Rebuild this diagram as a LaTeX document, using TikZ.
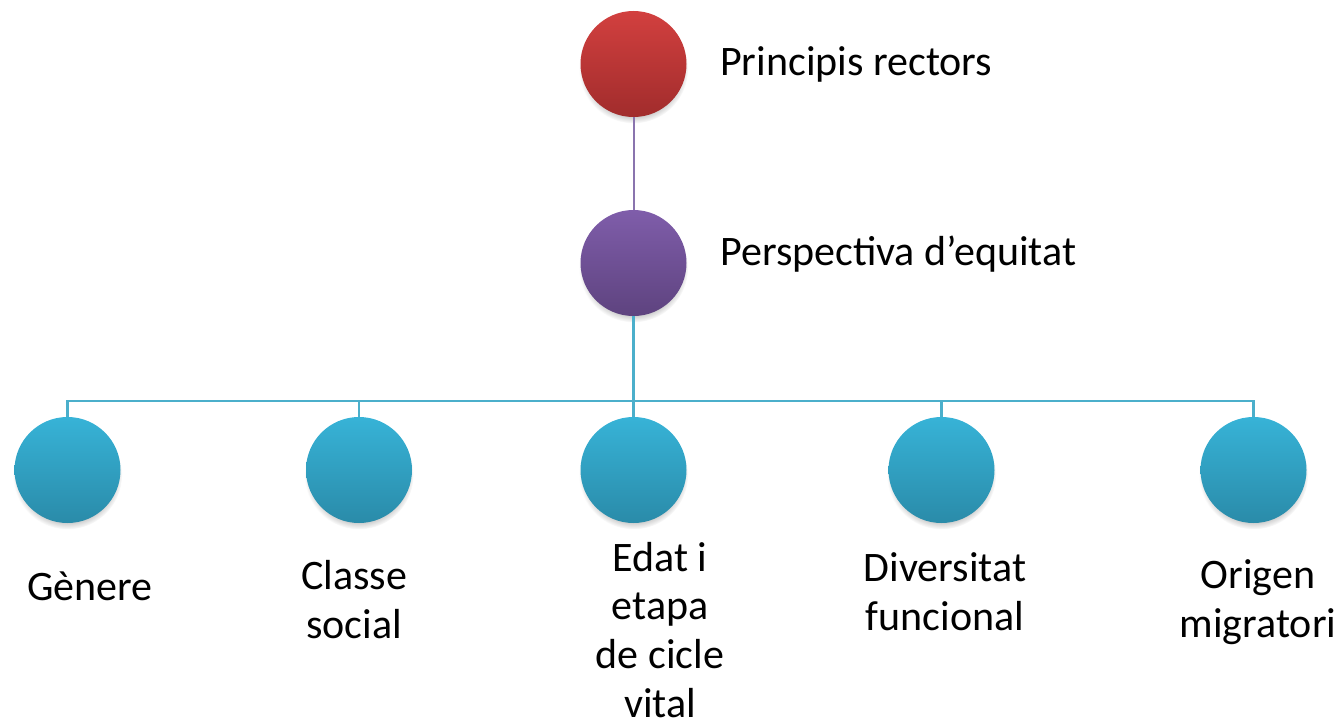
\documentclass[tikz,border=0pt]{standalone}
\usepackage{fontspec}
\setmainfont{Carlito}
\usetikzlibrary{shadows}
\definecolor{redtop}{HTML}{D2403F}
\definecolor{redbot}{HTML}{A12C2C}
\definecolor{purtop}{HTML}{7F5DAA}
\definecolor{purbot}{HTML}{5E437F}
\definecolor{blutop}{HTML}{37B3D7}
\definecolor{blubot}{HTML}{2A8BA9}
\definecolor{linepur}{HTML}{8A74AE}
\definecolor{lineblu}{HTML}{4BAFCB}
\tikzset{
  bubble/.style={circle, minimum size=79.5pt, inner sep=0pt, draw=none,
    circular drop shadow={shadow xshift=0pt, shadow yshift=-3.5pt, shadow scale=1.03, opacity=0.45}},
  redb/.style={bubble, top color=redtop, bottom color=redbot},
  purb/.style={bubble, top color=purtop, bottom color=purbot},
  blub/.style={bubble, top color=blutop, bottom color=blubot},
  lbl/.style={font=\fontsize{31.5}{36.5}\selectfont, inner sep=0pt, align=center, anchor=base},
  side/.style={font=\fontsize{31.5}{36.5}\selectfont, inner sep=0pt, anchor=base west},
  conp/.style={draw=linepur, line width=1.5pt},
  conb/.style={draw=lineblu, line width=2pt}
}
\begin{document}
\begin{tikzpicture}[x=0.75pt, y=-0.75pt]
\useasboundingbox (0,0) rectangle (1342,724);
\coordinate (bar) at (633.5,401);
\coordinate (bL) at (67.5,401);
\coordinate (bR) at (1253.5,401);
\node[redb] (r) at (633.5,64) {};
\node[purb] (p) at (633.5,263) {};
\node[blub] (g) at (67.5,470) {};
\node[blub] (c) at (359,470) {};
\node[blub] (e) at (633.5,470) {};
\node[blub] (d) at (941.5,470) {};
\node[blub] (o) at (1253.5,470) {};
\draw[conp] (r.south) -- (p.north);
\draw[conb] (p.south) -- (bar);
\draw[conb] (g.north) -- (bL) -- (bR) -- (o.north);
\draw[conb] (c.north) -- (c.north |- bar);
\draw[conb] (e.north) -- (e.north |- bar);
\draw[conb] (d.north) -- (d.north |- bar);
\node[side] (tr) at (720,76) {Principis rectors};
\node[side] (tp) at (720,265) {Perspectiva d’equitat};
\node[lbl] (tg) at (90,600) {Gènere};
\node[lbl] (tc) at (354,638) {Classe\\social};
\node[lbl] (te) at (660,717) {Edat i\\etapa\\de cicle\\vital};
\node[lbl] (td) at (945,630) {Diversitat\\funcional};
\node[lbl] (to) at (1258,637) {Origen\\migratori};
\end{tikzpicture}
\end{document}
